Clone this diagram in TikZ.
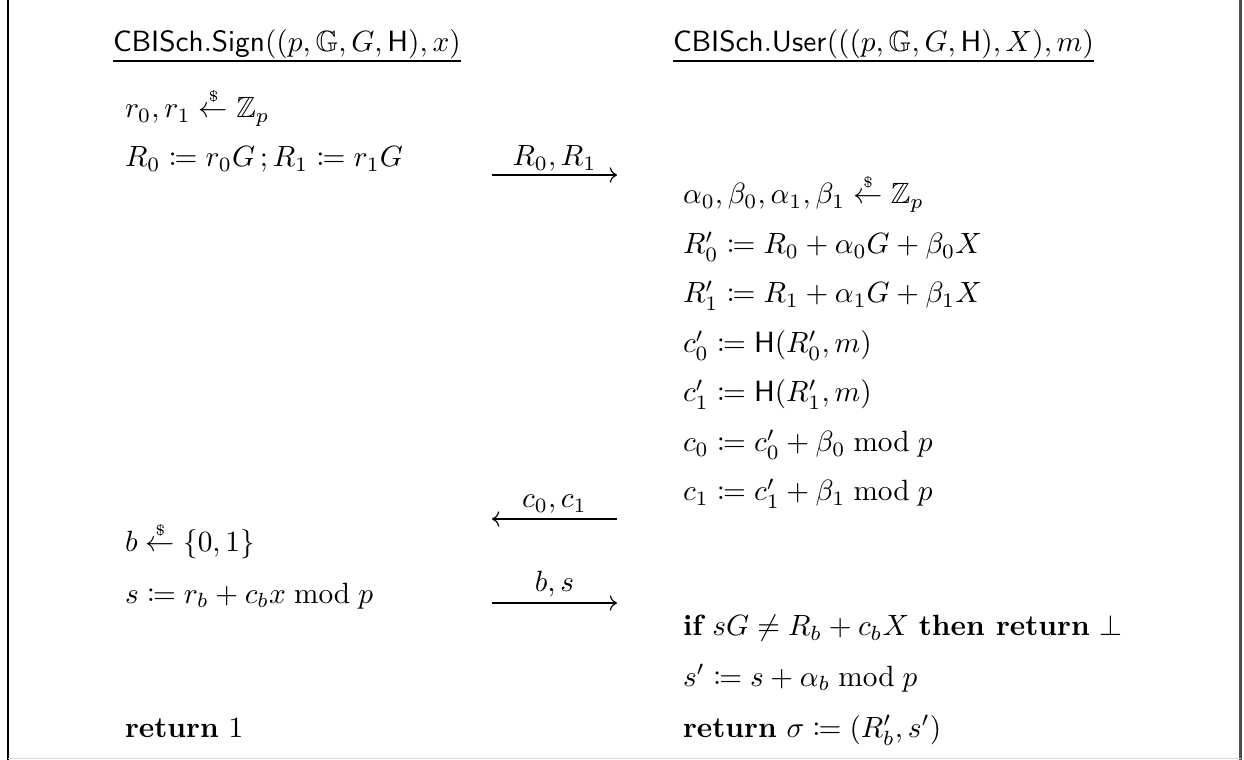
\documentclass[tikz,border=0pt]{standalone}
\usepackage{amsmath,amssymb,mathtools}
\usetikzlibrary{arrows.meta}
\newcommand{\smp}{\mathrel{\overset{\scriptscriptstyle\$}{\leftarrow}}}
\tikzset{
  txt/.style={anchor=base west, inner sep=0pt, outer sep=0pt},
  lbl/.style={anchor=base, inner sep=0pt, outer sep=0pt},
  msg/.style={line width=0.4pt, -{Computer Modern Rightarrow}},
  hdrline/.style={line width=0.4pt},
}
\begin{document}
\begin{tikzpicture}[x=0.3413pt, y=-0.3413pt]
\useasboundingbox (0,0) rectangle (1244,760);
% frame
\draw[line width=0.8pt] (8,0) -- (8,760);
\draw[line width=0.8pt, black!70] (1240.5,0) -- (1240.5,760);
\draw[line width=0.6pt, black!15] (8,758.5) -- (1240.5,758.5);
% headers
\node[txt] (hs) at (113,52) {$\mathsf{CBISch.Sign}((p,\mathbb{G},G,\mathsf{H}),x)$};
\node[txt] (hu) at (673,52) {$\mathsf{CBISch.User}(((p,\mathbb{G},G,\mathsf{H}),X),m)$};
\draw[hdrline] (hs.west |- 0,61) -- (hs.east |- 0,61);
\draw[hdrline] (hu.west |- 0,61) -- (hu.east |- 0,61);
% left column
\node[txt] (l1) at (125,118) {$r_0, r_1 \smp \mathbb{Z}_p$};
\node[txt] (l2) at (125,167) {$R_0 \coloneqq r_0G\,; R_1 \coloneqq r_1G$};
\node[txt] (l3) at (125,552) {$b \smp \{0,1\}$};
\node[txt] (l4) at (125,603) {$s \coloneqq r_b + c_bx \bmod p$};
\node[txt] (l5) at (125,737) {$\textbf{return}\ 1$};
% right column
\node[txt] (r1) at (683,204) {$\alpha_0,\beta_0,\alpha_1,\beta_1 \smp \mathbb{Z}_p$};
\node[txt] (r2) at (683,254) {$R_0' \coloneqq R_0 + \alpha_0G + \beta_0X$};
\node[txt] (r3) at (683,303) {$R_1' \coloneqq R_1 + \alpha_1G + \beta_1X$};
\node[txt] (r4) at (683,353) {$c_0' \coloneqq \mathsf{H}(R_0',m)$};
\node[txt] (r5) at (683,402) {$c_1' \coloneqq \mathsf{H}(R_1',m)$};
\node[txt] (r6) at (683,452) {$c_0 \coloneqq c_0' + \beta_0 \bmod p$};
\node[txt] (r7) at (683,501) {$c_1 \coloneqq c_1' + \beta_1 \bmod p$};
\node[txt] (r8) at (683,636) {$\textbf{if}\ sG \neq R_b + c_bX\ \textbf{then return}\ \bot$};
\node[txt] (r9) at (683,686) {$s' \coloneqq s + \alpha_b \bmod p$};
\node[txt] (r10) at (683,737) {$\textbf{return}\ \sigma \coloneqq (R_b', s')$};
% messages
\coordinate (m1a) at (492,175); \coordinate (m1b) at (617,175);
\coordinate (m2a) at (492,519); \coordinate (m2b) at (617,519);
\coordinate (m3a) at (492,603); \coordinate (m3b) at (617,603);
\draw[msg] (m1a) -- (m1b);
\draw[msg] (m2b) -- (m2a);
\draw[msg] (m3a) -- (m3b);
\node[lbl] (t1) at (554.5,166) {$R_0, R_1$};
\node[lbl] (t2) at (554.5,508) {$c_0, c_1$};
\node[lbl] (t3) at (554.5,592) {$b, s$};
\end{tikzpicture}
\end{document}
